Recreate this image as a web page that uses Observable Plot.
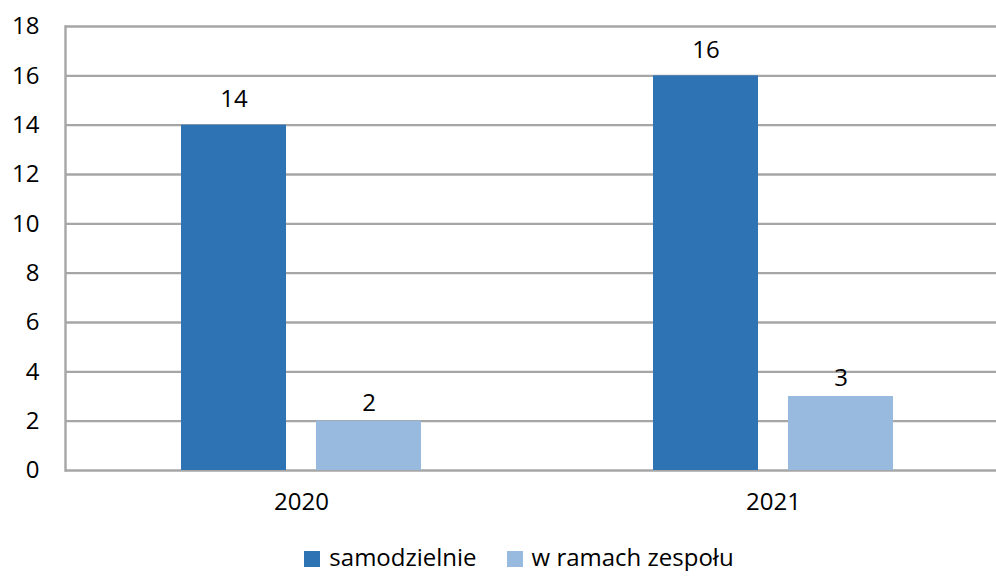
<!DOCTYPE html>
<html>
<head>
<meta charset="utf-8">
<script src="https://cdn.jsdelivr.net/npm/d3@7"></script>
<script src="https://cdn.jsdelivr.net/npm/@observablehq/plot@0.6"></script>
<style>
  html, body { margin: 0; padding: 0; background: #fff; overflow: hidden; }
  #chart { width: 996px; font-family: "Open Sans", sans-serif; }
  #legend { display: flex; justify-content: center; gap: 30px; font-size: 24px; line-height: 28px; color: #000; margin-top: 3px; padding-left: 42px; }
  .sw { display: inline-flex; align-items: center; }
  .sq { width: 16px; height: 16px; display: inline-block; margin-right: 9px; margin-top: 4px; }
</style>
</head>
<body>
<div id="chart"></div>
<script>
const years = ["2020", "2021"];
const series = ["samodzielnie", "w ramach zespołu"];
const samodzielnie = [14, 16];
const wRamachZespolu = [2, 3];
const colors = ["#2E74B5", "#98BADF"];
const yTicks = [0, 2, 4, 6, 8, 10, 12, 14, 16, 18];

const dataA = years.map((y, i) => ({year: y, series: series[0], value: samodzielnie[i]}));
const dataB = years.map((y, i) => ({year: y, series: series[1], value: wRamachZespolu[i]}));

const plot = Plot.plot({
  width: 996,
  height: 540,
  marginLeft: 65,
  marginRight: 0,
  marginTop: 26,
  marginBottom: 70,
  style: {fontFamily: "Open Sans, sans-serif", fontSize: "24px", color: "#000", background: "#fff"},
  x: {domain: years, range: [65, 1009], padding: 0, label: null},
  y: {domain: [0, 18], label: null},
  marks: [
    Plot.ruleY(yTicks, {stroke: "#a6a6a6", strokeWidth: 2.4, strokeOpacity: 1}),
    Plot.frame({anchor: "left", stroke: "#a6a6a6", strokeWidth: 2.4, strokeOpacity: 1}),
    Plot.barY(dataA, {x: "year", y: "value", fill: colors[0], insetLeft: 116, insetRight: 251}),
    Plot.barY(dataB, {x: "year", y: "value", fill: colors[1], insetLeft: 251, insetRight: 116}),
    Plot.text(dataA, {x: "year", y: "value", text: d => String(d.value), dx: -67.5, dy: -26, fill: "#000", fontSize: 24}),
    Plot.text(dataB, {x: "year", y: "value", text: d => String(d.value), dx: 67.5, dy: -18, fill: "#000", fontSize: 24}),
    Plot.axisY(yTicks, {tickSize: 0, tickPadding: 26, fontSize: 24, fill: "#000"}),
    Plot.axisX({tickSize: 0, tickPadding: 22, fontSize: 24, fill: "#000"})
  ]
});
document.getElementById("chart").appendChild(plot);

const legend = document.createElement("div");
legend.id = "legend";
series.forEach((s, i) => {
  const item = document.createElement("span");
  item.className = "sw";
  const sq = document.createElement("span");
  sq.className = "sq";
  sq.style.background = colors[i];
  item.appendChild(sq);
  item.appendChild(document.createTextNode(s));
  legend.appendChild(item);
});
document.getElementById("chart").appendChild(legend);
</script>
</body>
</html>
